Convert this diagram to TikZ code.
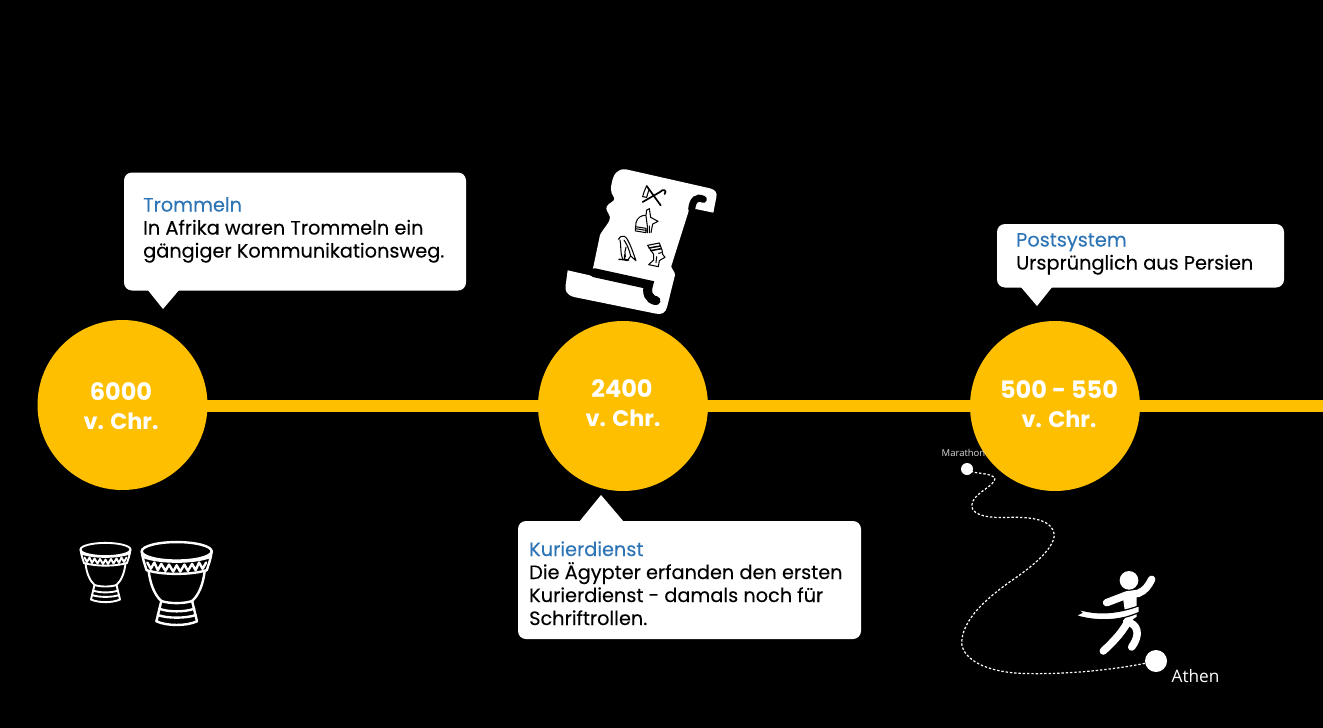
\documentclass[tikz,border=0pt]{standalone}
\usepackage{fontspec}
\setmainfont{Poppins}[FakeBold=0.12]
\newfontfamily\stopfont{Poppins}
\newfontfamily\opensans{Open Sans}
\definecolor{amber}{HTML}{FDBF00}
\definecolor{headblue}{HTML}{2E75B6}
\tikzset{
  stopdisc/.style={circle,fill=amber,minimum size=170pt,inner sep=0pt},
  stoplabel/.style={anchor=base,inner sep=0pt,text=white,font=\stopfont\bfseries\fontsize{24}{24}\selectfont},
  stopsub/.style={anchor=base,inner sep=0pt,text=white,font=\stopfont\bfseries\fontsize{22.4}{24}\selectfont},
  bubble/.style={fill=white,rounded corners=8pt,inner sep=0pt,minimum width=#1},
  headline/.style={anchor=base west,inner sep=0pt,text=headblue,font=\fontsize{19.3}{20}\selectfont},
  bodyline/.style={anchor=base west,inner sep=0pt,text=black,font=\fontsize{19.3}{20}\selectfont},
  drumline/.style={draw=white,line join=round,line cap=round},
  glyph/.style={draw=black,line width=1.05pt,line join=round,line cap=round},
  dotpath/.style={draw=white,line width=1.2pt,dash pattern=on 2.4pt off 1.9pt},
  limb/.style={draw=white,line width=7.5pt,line cap=round,line join=round}
}
\newcommand{\drumicon}[4]{%
\begin{scope}[shift={(#1,#2)},scale=#3,drumline,line width=#4]
  \draw (0,7) ellipse [x radius=25,y radius=6.6];
  \draw (-25,7) .. controls (-24,14) and (-22.5,17) .. (-21.5,20.5);
  \draw (25,7) .. controls (24,14) and (22.5,17) .. (21.5,20.5);
  \draw (-24,11) .. controls (-12,15.5) and (12,15.5) .. (24,11);
  \draw (-21.5,20.5) .. controls (-10,24) and (10,24) .. (21.5,20.5);
  \draw[line width=#4] (-21,15) -- (-18.5,19.5) -- (-16,15) -- (-13.5,20.5) -- (-11,16) -- (-8,21) -- (-5.5,16.5) -- (-2.5,21.5) -- (0,17) -- (2.5,21.5) -- (5.5,16.5) -- (8,21) -- (11,16) -- (13.5,20.5) -- (16,15) -- (18.5,19.5) -- (21,15);
  \draw (-20,21) .. controls (-19,30) and (-16,38) .. (-11,42.5);
  \draw (20,21) .. controls (19,30) and (16,38) .. (11,42.5);
  \draw (-11,42.5) .. controls (-5,44.5) and (5,44.5) .. (11,42.5);
  \draw (-11,42.5) -- (-14.5,57);
  \draw (11,42.5) -- (14.5,57);
  \draw (-14.5,57) .. controls (-7,60.5) and (7,60.5) .. (14.5,57);
  \draw (-12.5,48) .. controls (-6,50.5) and (6,50.5) .. (12.5,48);
  \draw (-13.5,52.5) .. controls (-7,55) and (7,55) .. (13.5,52.5);
\end{scope}}
\begin{document}
\begin{tikzpicture}[x=1pt,y=-1pt]
\path[use as bounding box,fill=black] (0,0) rectangle (1323,728);
% timeline
\coordinate (lineend) at (1323,406);
\node[stopdisc] (c1) at (122.5,405) {};
\node[stopdisc] (c2) at (623,406) {};
\node[stopdisc] (c3) at (1055,406) {};
\draw[amber,line width=12pt] (c1.center |- lineend) -- (c2.west);
\draw[amber,line width=12pt] (c2.east) -- (c3.west);
\draw[amber,line width=12pt] (c3.east) -- (lineend);
\node[stoplabel] (y1a) at (121,400) {6000};
\node[stopsub] (y1b) at (121,429) {v. Chr.};
\node[stoplabel] (y2a) at (622,397) {2400};
\node[stopsub] (y2b) at (623,426) {v. Chr.};
\node[stoplabel] (y3a) at (1059,398) {500 - 550};
\node[stopsub] (y3b) at (1059,427) {v. Chr.};
% callouts
\fill[white] (147,289) -- (163,309) -- (180,289) -- cycle;
\node[bubble=342pt,minimum height=118pt] (b1) at (295,231.5) {};
\node[headline] (h1) at (143,211.5) {Trommeln};
\node[bodyline] (l1a) at (143,234.5) {In Afrika waren Trommeln ein};
\node[bodyline] (l1b) at (143,257.5) {gängiger Kommunikationsweg.};
\fill[white] (579,522) -- (601,495) -- (624,522) -- cycle;
\node[bubble=343pt,minimum height=118pt] (b2) at (689.5,580) {};
\node[headline] (h2) at (529,556) {Kurierdienst};
\node[bodyline] (l2a) at (529,579) {Die Ägypter erfanden den ersten};
\node[bodyline] (l2b) at (529,602) {Kurierdienst - damals noch für};
\node[bodyline] (l2c) at (529,625) {Schriftrollen.};
\fill[white] (1020,286) -- (1037,306) -- (1053,286) -- cycle;
\node[bubble=287pt,minimum height=63.5pt] (b3) at (1140.5,255.75) {};
\node[headline] (h3) at (1016,246.5) {Postsystem};
\node[bodyline] (l3a) at (1016,269.5) {Ursprünglich aus Persien};
% drums
\drumicon{105.5}{542.5}{1}{1.9pt}
\drumicon{176.7}{541.5}{1.4}{2.4pt}
% scroll
\begin{scope}[shift={(550,160)},scale=1/3]
  \fill[white,line join=round]
    (185,70) .. controls (190,45) and (200,25) .. (228,28)
    -- (480,85) .. controls (497,90) and (502,98) .. (499,112)
    -- (490,158) -- (437,147) -- (418,147)
    -- (364,318) .. controls (362,325) and (376,335) .. (375,345)
    -- (352,438)
    .. controls (348,458) and (335,465) .. (318,461)
    -- (72,411) .. controls (50,405) and (44,392) .. (47,375)
    -- (53,331) -- (128,348) -- (128,330)
    -- (150,225) .. controls (160,205) and (182,185) .. (180,172)
    .. controls (178,160) and (165,150) .. (170,140)
    .. controls (175,128) and (195,125) .. (193,115)
    .. controls (190,105) and (178,100) .. cycle;
  \draw[black,line width=9pt,line cap=round] (132,338) -- (296,374) .. controls (288,398) and (296,418) .. (318,422);
  \draw[black,line width=7pt,line cap=round] (460,118) .. controls (440,108) and (428,120) .. (425,148);
  % crook and flail
  \draw[glyph,line width=1.7pt] (278,126) -- (330,96) .. controls (340,84) and (352,92) .. (344,102);
  \draw[glyph,line width=1.7pt] (290,78) -- (332,136);
  \draw[glyph] (290,78) .. controls (284,90) and (280,100) .. (278,110) -- (290,112) -- (296,92);
  % jackal
  \draw[glyph] (256,213) -- (258,188) .. controls (262,172) and (275,165) .. (288,166) -- (290,150) -- (298,146) -- (302,172) -- (324,184) -- (308,192) -- (303,218);
  \draw[glyph] (256,200) -- (288,205) -- (288,218) -- (258,213);
  \draw[glyph] (256,206) -- (288,211);
  \draw[glyph] (292,200) -- (292,218) (298,198) -- (298,218) (288,168) -- (292,198);
  % falcon
  \draw[glyph] (205,238) -- (212,230) .. controls (218,226) and (226,228) .. (232,238) .. controls (242,255) and (250,280) .. (258,302) -- (242,288) -- (232,302) -- (218,298) .. controls (210,280) and (214,255) .. (210,240);
  \draw[glyph] (222,240) .. controls (232,255) and (238,270) .. (242,288);
  \draw[glyph] (228,262) .. controls (224,272) and (224,280) .. (226,290);
  \draw[glyph,line width=1.4pt] (207,298) -- (236,300) (224,284) -- (224,299);
  % queen
  \draw[glyph] (293,256) -- (328,249) -- (336,270) -- (338,283) -- (345,292) -- (336,297) -- (328,302) -- (325,320) -- (296,314) -- (311,300) -- (311,283) -- cycle;
  \draw[glyph,line width=1.5pt] (297,264) -- (331,258) (302,272) -- (334,266);
  \draw[glyph] (326,280) -- (334,278) (320,290) -- (318,308);
\end{scope}
% marathon route
\begin{scope}[shift={(930,440)},scale=1/3]
  \coordinate (rs) at (111,87);
  \coordinate (re) at (678,663);
  \draw[dotpath] (rs) .. controls (130,105) and (180,95) .. (195,115)
    .. controls (195,140) and (125,160) .. (125,198)
    .. controls (128,228) and (180,235) .. (240,232)
    .. controls (320,230) and (370,245) .. (373,285)
    .. controls (370,330) and (300,385) .. (240,425)
    .. controls (170,475) and (95,540) .. (95,610)
    .. controls (100,660) and (170,695) .. (270,700)
    .. controls (400,705) and (560,690) .. (re);
  % runner
  \fill[white] (597,421) circle (28);
  \draw[limb] (530,488) -- (590,465) -- (625,460) .. controls (645,452) and (655,438) .. (665,418);
  \fill[white] (578,468) -- (620,458) -- (620,530) -- (590,550) -- cycle;
  \draw[limb] (600,530) .. controls (585,570) and (550,605) .. (520,633);
  \draw[limb] (590,545) .. controls (625,552) and (632,585) .. (605,621);
  \fill[white,draw=black,line width=1.2pt] (437,527) -- (455,518) -- (443,507) .. controls (500,525) and (560,522) .. (628,497) -- (628,517) .. controls (565,545) and (500,545) .. cycle;
\end{scope}
\node[circle,fill=white,minimum size=12pt,inner sep=0pt] (marathon) at (967,469) {};
\node[circle,fill=white,minimum size=22pt,inner sep=0pt] (athen) at (1156,661) {};
\node[anchor=base west,inner sep=0pt,text=white!85!black,font=\opensans\fontsize{9.5}{10}\selectfont] (tm) at (941.5,456.5) {Marathon};
\node[anchor=base west,inner sep=0pt,text=white,font=\opensans\fontsize{17.2}{18}\selectfont] (ta) at (1171.5,682) {Athen};
\end{tikzpicture}
\end{document}
